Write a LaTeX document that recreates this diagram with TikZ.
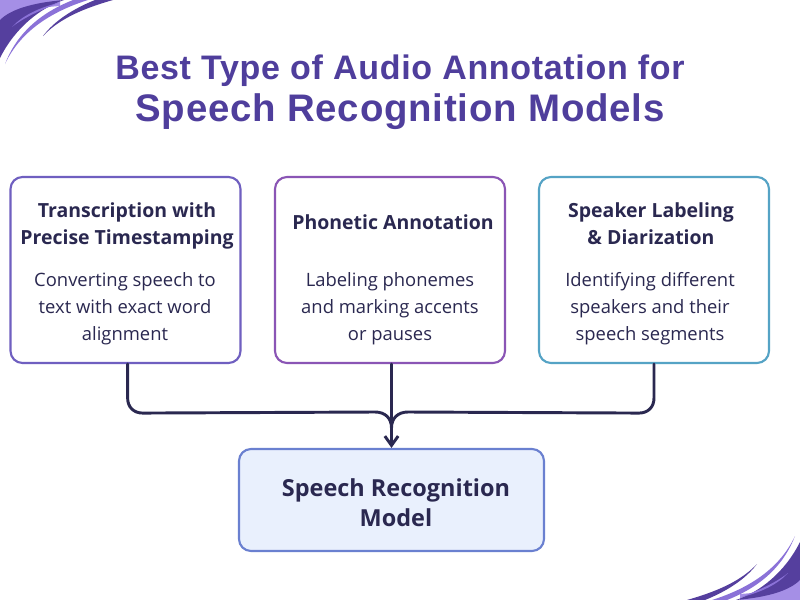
\documentclass[tikz,border=0pt]{standalone}
\usepackage{fontspec}
\setmainfont{Open Sans}
\newfontfamily\titlefont[LetterSpace=2]{Liberation Sans Bold}
\newfontfamily\headfont{Open Sans Bold}
\usetikzlibrary{arrows.meta}
\definecolor{ink}{HTML}{2A2850}
\definecolor{titlec}{HTML}{4F3E9C}
\definecolor{bordA}{HTML}{6F5FC0}
\definecolor{bordB}{HTML}{8A55B5}
\definecolor{bordC}{HTML}{55A3C5}
\definecolor{bordD}{HTML}{6A80D0}
\definecolor{fillD}{HTML}{E9F0FD}
\definecolor{swDark}{HTML}{553F9E}
\definecolor{swMid}{HTML}{8B72D8}
\definecolor{swLight}{HTML}{A58FE6}
\tikzset{
  card/.style={draw,line width=1.6pt,rounded corners=9pt,fill=white,minimum width=172.5pt,minimum height=139.5pt,inner sep=0pt},
  target/.style={draw=bordD,fill=fillD,line width=1.6pt,rounded corners=9pt,minimum width=228.75pt,minimum height=76.5pt,inner sep=0pt},
  head/.style={text=ink,align=center,font=\headfont\fontsize{14.6}{20.25}\selectfont},
  body/.style={text=ink,align=center,font=\fontsize{13.8}{20.25}\selectfont},
  conn/.style={draw=ink,line width=2.2pt,line cap=round},
}
\newcommand{\swooshes}{%
  \fill[swLight] (0,0) -- (60,0) -- (60,6) .. controls (30,8) and (8,14) .. (0,24) -- cycle;
  \fill[swDark] (0,20) .. controls (10,10) and (30,3) .. (64,0) .. controls (40,8) and (15,28) .. (0,58) -- cycle;
  \fill[swMid] (12,27) .. controls (22,16) and (38,8) .. (58,3) .. controls (42,10) and (26,16) .. (12,27) -- cycle;
  \fill[swMid] (5,64) .. controls (15,38) and (35,15) .. (73,0) -- (88,0) .. controls (50,12) and (20,32) .. (5,64) -- cycle;
  \fill[swDark] (43,36) .. controls (55,20) and (75,8) .. (95,0) -- (113,0) .. controls (85,8) and (60,18) .. (43,36) -- cycle;
}
\begin{document}
\begin{tikzpicture}[x=0.75pt,y=-0.75pt]
\useasboundingbox (0,0) rectangle (800,600);
\fill[white] (0,0) rectangle (800,600);
\swooshes
\begin{scope}[shift={(800,600)},xscale=-1,yscale=-1]
\swooshes
\end{scope}
\node (title) at (400,92) [text=titlec,align=center,font=\titlefont\fontsize{25.5}{31.5}\selectfont] {Best Type of Audio Annotation for\\[0pt]{\fontsize{28.8}{31.5}\selectfont Speech Recognition Models}};
\node[card,draw=bordA] (b1) at (125.5,270) {};
\node[card,draw=bordB] (b2) at (390,270) {};
\node[card,draw=bordC] (b3) at (654,270) {};
\node[target] (b4) at (391.5,500) {};
\node[head] (h1) at (127,225.5) {Transcription with\\Precise Timestamping};
\node[head] (h2) at (393,222.5) {Phonetic Annotation};
\node[head] (h3) at (651,224) {Speaker Labeling\\\& Diarization};
\node[body] (t1) at (125,309) {Converting speech to\\text with exact word\\alignment};
\node[body] (t2) at (390,309) {Labeling phonemes\\and marking accents\\or pauses};
\node[body] (t3) at (650,309) {Identifying different\\speakers and their\\speech segments};
\node[head,font=\headfont\fontsize{17.6}{22.5}\selectfont] (h4) at (396,503) {Speech Recognition\\Model};
\coordinate (m1) at (375,412);
\coordinate (m3) at (408,412);
\coordinate (j) at (391.5,428);
\path[conn] ([xshift=1.6pt]b1.south) -- ++(0,34) .. controls +(0,9) and +(-9,0) .. ++(15,15) -- (m1) .. controls (385,412) and (391.5,418) .. (j);
\path[conn] (b3.south) -- ++(0,34) .. controls +(0,9) and +(9,0) .. ++(-15,15) -- (m3) .. controls (398,412) and (391.5,418) .. (j);
\path[conn,-{Straight Barb[length=7pt,width=10pt,line width=2.2pt]}] (b4.north |- b2.south) -- (b4.north);
\end{tikzpicture}
\end{document}
